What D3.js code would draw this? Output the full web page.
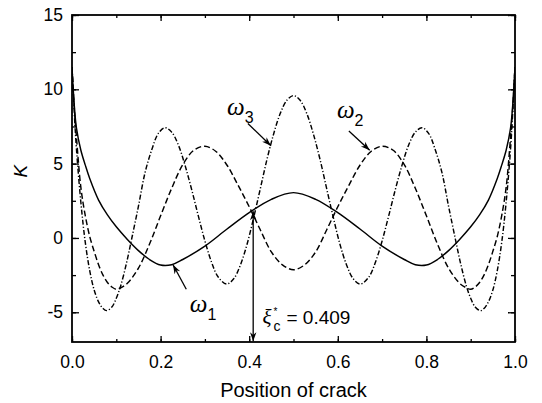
<!DOCTYPE html>
<html>
<head>
<meta charset="utf-8">
<script src="https://cdn.jsdelivr.net/npm/d3@7"></script>
<style>
  html, body { margin: 0; padding: 0; background: #fff; }
  svg { display: block; }
</style>
</head>
<body>
<svg id="chart" width="542" height="403"></svg>
<script>
// ---------- data ----------
const xTicks = [0.0, 0.2, 0.4, 0.6, 0.8, 1.0];
const yTicks = [-5, 0, 5, 10, 15];
const xLabel = "Position of crack";
const yLabel = "K";

const xs1 = [0, 0.005, 0.01, 0.02, 0.03, 0.04, 0.06, 0.08, 0.1, 0.125, 0.15, 0.175, 0.2, 0.225, 0.25, 0.3, 0.35, 0.4, 0.45, 0.5,
             0.55, 0.6, 0.65, 0.7, 0.75, 0.775, 0.8, 0.825, 0.85, 0.875, 0.9, 0.92, 0.94, 0.96, 0.97, 0.98, 0.99, 0.995, 1.0];
const k1  = [11.5, 9.0, 7.4, 5.9, 4.9, 4.0, 2.55, 1.55, 0.75, -0.1, -0.85, -1.45, -1.82, -1.8, -1.45, -0.55, 0.6, 1.7, 2.6, 3.05,
             2.6, 1.7, 0.6, -0.55, -1.45, -1.8, -1.82, -1.45, -0.85, -0.1, 0.75, 1.55, 2.55, 4.0, 4.9, 5.9, 7.4, 9.0, 11.5];

const xs2 = [0, 0.005, 0.01, 0.02, 0.03, 0.04, 0.05, 0.06, 0.07, 0.08, 0.09, 0.1, 0.11, 0.125, 0.15, 0.175, 0.2, 0.225, 0.25, 0.275,
             0.3, 0.325, 0.35, 0.375, 0.4, 0.425, 0.45, 0.475, 0.5,
             0.525, 0.55, 0.575, 0.6, 0.625, 0.65, 0.675, 0.7, 0.725, 0.75, 0.775, 0.8, 0.825, 0.85, 0.875, 0.89, 0.9, 0.91, 0.92,
             0.93, 0.94, 0.95, 0.96, 0.97, 0.98, 0.99, 0.995, 1.0];
const k2  = [11.5, 8.8, 6.8, 3.4, 1.5, 0.1, -0.9, -1.8, -2.5, -3.0, -3.3, -3.45, -3.35, -3.05, -2.03, -0.41, 1.49, 3.34, 4.93, 5.9,
             6.17, 5.82, 4.89, 3.54, 2.1, 0.55, -0.94, -1.81, -2.14,
             -1.81, -0.94, 0.55, 2.1, 3.54, 4.89, 5.82, 6.17, 5.9, 4.93, 3.34, 1.49, -0.41, -2.03, -3.05, -3.35, -3.45, -3.3, -3.0,
             -2.5, -1.8, -0.9, 0.1, 1.5, 3.4, 6.8, 8.8, 11.5];

const xs3 = [0, 0.005, 0.01, 0.02, 0.03, 0.04, 0.05, 0.06, 0.07, 0.078, 0.09, 0.1, 0.11, 0.123, 0.135, 0.15, 0.165, 0.18, 0.195, 0.21,
             0.225, 0.24, 0.255, 0.27, 0.285, 0.3, 0.315, 0.33, 0.349, 0.365, 0.38, 0.395, 0.41, 0.425, 0.44, 0.455, 0.47, 0.485, 0.5,
             0.515, 0.53, 0.545, 0.56, 0.575, 0.59, 0.605, 0.62, 0.635, 0.651, 0.67, 0.685, 0.7, 0.715, 0.73, 0.745, 0.76, 0.775, 0.79,
             0.805, 0.82, 0.835, 0.85, 0.865, 0.877, 0.89, 0.9, 0.91, 0.922, 0.93, 0.94, 0.95, 0.96, 0.97, 0.98, 0.99, 0.995, 1.0];
const k3  = [11.5, 8.5, 6.0, 2.4, -0.3, -2.2, -3.5, -4.3, -4.75, -4.89, -4.64, -4.06, -3.21, -1.69, -0.02, 2.14, 4.41, 5.93, 7.04, 7.42,
             7.12, 6.26, 4.9, 3.27, 1.5, -0.2, -1.63, -2.63, -3.1, -2.75, -1.83, -0.44, 1.36, 3.3, 5.27, 6.98, 8.37, 9.26, 9.58,
             9.26, 8.37, 6.98, 5.27, 3.3, 1.36, -0.44, -1.83, -2.75, -3.1, -2.63, -1.63, -0.2, 1.5, 3.27, 4.9, 6.26, 7.12, 7.42,
             7.04, 5.93, 4.41, 2.14, -0.02, -1.69, -3.21, -4.06, -4.64, -4.89, -4.75, -4.3, -3.5, -2.2, -0.3, 2.4, 6.0, 8.5, 11.5];

const critX = 0.409;
const critK = 1.8;

// ---------- layout ----------
const svg = d3.select("#chart");
const L = 72, R = 515, T = 15, B = 342;
const x = d3.scaleLinear().domain([0, 1]).range([L, R]);
const y = d3.scaleLinear().domain([-7, 15]).range([B, T]);

const sans = "'Liberation Sans', Arial, sans-serif";
const serif = "'Liberation Serif', 'Times New Roman', serif";

// curves
const line = d3.line().x(d => x(d[0])).y(d => y(d[1])).curve(d3.curveCatmullRom.alpha(0.5));
const series = [
  { xs: xs1, ks: k1, dash: null },
  { xs: xs2, ks: k2, dash: "6,3" },
  { xs: xs3, ks: k3, dash: "5,2,1.2,2" }
];
const g = svg.append("g");
g.append("clipPath").attr("id", "clip").append("rect")
  .attr("x", L).attr("y", T).attr("width", R - L).attr("height", B - T);
series.forEach(s => {
  g.append("path")
    .datum(s.xs.map((v, i) => [v, s.ks[i]]))
    .attr("d", line)
    .attr("fill", "none")
    .attr("stroke", "#000")
    .attr("stroke-width", 1.45)
    .attr("stroke-dasharray", s.dash)
    .attr("clip-path", "url(#clip)");
});

// axes (ticks inward, on all four sides)
const minorX = d3.range(0, 1.0001, 0.1);
const minorY = d3.range(-5, 15.0001, 2.5);
const fmtY = d => String(d);
const axB = d3.axisBottom(x).tickValues(minorX).tickSize(-3).tickFormat("");
const axBMaj = d3.axisBottom(x).tickValues(xTicks).tickSize(-6).tickPadding(14).tickFormat(d3.format(".1f"));
const axT = d3.axisTop(x).tickValues(minorX).tickSize(-3).tickFormat("");
const axTMaj = d3.axisTop(x).tickValues(xTicks).tickSize(-6).tickFormat("");
const axL = d3.axisLeft(y).tickValues(minorY).tickSize(-4).tickFormat("");
const axLMaj = d3.axisLeft(y).tickValues(yTicks).tickSize(-7).tickPadding(9).tickFormat(fmtY);
const axR = d3.axisRight(y).tickValues(minorY).tickSize(-4).tickFormat("");
const axRMaj = d3.axisRight(y).tickValues(yTicks).tickSize(-7).tickFormat("");

function styleAxis(sel) {
  sel.select(".domain").remove();
  sel.selectAll("line").attr("stroke", "#000").attr("stroke-width", 1.3);
  sel.selectAll("text").attr("fill", "#000").style("font-family", sans).style("font-size", "17.5px");
}
[[axB, `translate(0,${B})`], [axBMaj, `translate(0,${B})`], [axT, `translate(0,${T})`], [axTMaj, `translate(0,${T})`],
 [axL, `translate(${L},0)`], [axLMaj, `translate(${L},0)`], [axR, `translate(${R},0)`], [axRMaj, `translate(${R},0)`]]
 .forEach(([ax, tr]) => svg.append("g").attr("transform", tr).call(ax).call(styleAxis));

// frame
svg.append("rect").attr("x", L).attr("y", T).attr("width", R - L).attr("height", B - T)
  .attr("fill", "none").attr("stroke", "#000").attr("stroke-width", 1.8);

// axis titles
svg.append("text").attr("x", x(0.5)).attr("y", 397).attr("text-anchor", "middle")
  .style("font-family", sans).style("font-size", "20px").text(xLabel);
svg.append("text").attr("transform", `translate(27,${y(4.5)}) rotate(-90)`).attr("text-anchor", "middle")
  .style("font-family", sans).style("font-size", "19px").style("font-style", "italic").text(yLabel);

// arrow marker
const defs = svg.append("defs");
defs.append("marker").attr("id", "ah").attr("viewBox", "0 0 10 10").attr("refX", 10).attr("refY", 5)
  .attr("markerWidth", 7).attr("markerHeight", 7).attr("orient", "auto-start-reverse")
  .append("path").attr("d", "M0,1.5 L10,5 L0,8.5 L3,5 Z").attr("fill", "#000");

function arrow(x1, y1, x2, y2, both) {
  const a = svg.append("line").attr("x1", x(x1)).attr("y1", y(y1)).attr("x2", x(x2)).attr("y2", y(y2))
    .attr("stroke", "#000").attr("stroke-width", 1.3).attr("marker-end", "url(#ah)");
  if (both) a.attr("marker-start", "url(#ah)");
}
function omega(xv, yv, sub) {
  const t = svg.append("text").attr("x", x(xv)).attr("y", y(yv)).attr("fill", "#000");
  t.append("tspan").style("font-family", serif).style("font-style", "italic").style("font-size", "25px").text("ω");
  t.append("tspan").attr("dy", 8).style("font-family", sans).style("font-size", "16px").text(sub);
}

// labels for modes
omega(0.350, 8.25, "3");
arrow(0.397, 7.7, 0.449, 6.2);
omega(0.598, 8.1, "2");
arrow(0.625, 7.2, 0.672, 5.9);
omega(0.266, -4.95, "1");
arrow(0.258, -3.45, 0.228, -1.8);

// critical position arrow
arrow(critX, critK, critX, -6.95, true);
const xiX = x(0.430), xiY = y(-5.8);
svg.append("text").attr("x", xiX).attr("y", xiY)
  .style("font-family", serif).style("font-style", "italic").style("font-size", "21px").text("ξ");
svg.append("text").attr("x", xiX + 11).attr("y", xiY - 9)
  .style("font-family", sans).style("font-size", "10px").text("*");
svg.append("text").attr("x", xiX + 11).attr("y", xiY + 7)
  .style("font-family", sans).style("font-size", "14px").text("c");
svg.append("text").attr("x", xiX + 24).attr("y", xiY)
  .style("font-family", sans).style("font-size", "19px").text("= 0.409");
</script>
</body>
</html>
